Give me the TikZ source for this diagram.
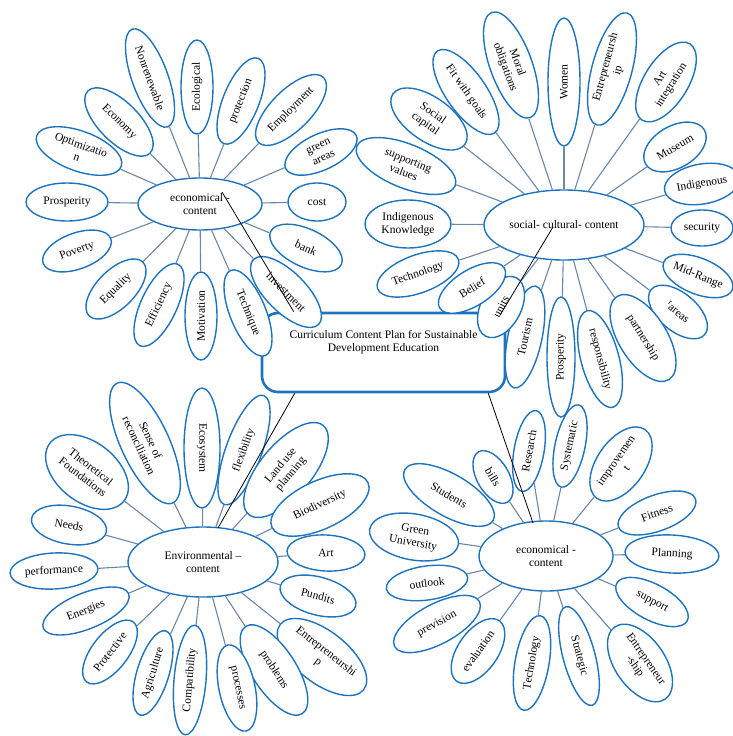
\documentclass[tikz,border=0pt]{standalone}
\usepackage{fontspec}
\setmainfont{Liberation Serif}
\usetikzlibrary{shapes.geometric,calc,positioning}
\definecolor{petalblue}{RGB}{30,115,190}
\definecolor{spokegray}{RGB}{105,135,170}
\begin{document}
\begin{tikzpicture}[x=1pt,y=-1pt,
	font=\fontsize{11.5}{13}\selectfont,
	hub/.style={ellipse,draw=petalblue,line width=1.4pt,fill=white,inner sep=0pt,align=center},
	petal/.style={ellipse,draw=petalblue,line width=1.4pt,fill=white,inner sep=-3pt,align=center},
	spoke/.style={draw=spokegray,line width=1.1pt},
	link/.style={draw=black,line width=0.8pt}]
	\useasboundingbox (0,0) rectangle (733,736);
	% central plan
	\node[draw=petalblue,line width=2.6pt,rounded corners=16pt,minimum width=243pt,minimum height=79pt,inner sep=0pt] (plan) at (383.5,352.5) {};
	\node[below=18pt of plan.north,align=center,inner sep=0pt] (plantitle) {Curriculum Content Plan for Sustainable\\Development Education};
	% hubs
	\node[hub,minimum width=124pt,minimum height=52pt] (econ) at (200,204) {economical -\\content};
	\node[hub,minimum width=160pt,minimum height=70pt] (social) at (564,225) {social- cultural- content};
	\node[hub,minimum width=150pt,minimum height=70pt] (environ) at (203,562) {Environmental --\\content};
	\node[hub,minimum width=134pt,minimum height=70pt] (econb) at (546,556) {economical -\\content};
	% petals: x/y/rotation/half length/half width/text
	\foreach \px/\py/\r/\a/\b/\t [count=\i] in {
		67/202/0/41/19/Prosperity,
		79/151/-20/45/20/{Optimizatio\\n},
		119/122/-45/44/20/Economy,
		150/78/-70/52/18/Nonrenewable,
		197/87/90/47/16/Ecological,
		241/101/68/46/18/protection,
		291/110/45/46/20/Employment,
		321/152/25/39/18/{green\\areas},
		317/202/0/29/19/cost,
		306/248/-25/39/19/bank,
		286/292/-45/46/20/investment,
		248/313/-68/46/18/Technique,
		201/316/90/44/16/Motivation,
		159/305/65/45/18/Efficiency,
		116/289/45/38/19/Equality,
		77/251/20/36/18/Poverty}{
		\node[petal,rotate=\r,minimum width=2*\a,minimum height=2*\b] (econ\i) at (\px,\py) {\t};
		\draw[spoke] (econ) -- (econ\i);
	}
	\foreach \px/\py/\r/\a/\b/\t [count=\i] in {
		408/224/0/43/24/{Indigenous\\Knowledge},
		406/166/-22/53/22/{supporting\\values},
		429/119/-35/44/22/{Social\\capital},
		466/92/-55/50/20/Fit with goals,
		511/65/-70/56/21/{Moral\\obligations},
		564/82/90/64/16/Women,
		612/69/75/58/20/{Entrepreneursh\\ip},
		666/82/58/45/22/{Art\\integration},
		675/147/30/34/21/Museum,
		702/184/10/38/20/Indigenous,
		702/228/0/31/18/security,
		698/276/-22/37/18/Mid-Range,
		678/312/-40/35/19/{\textsuperscript{r}areas},
		643/338/-58/49/24/partnership,
		600/359/-75/50/19/responsibility,
		561/357/90/60/14/Prosperity,
		525/337/78/52/17/Tourism,
		501/307/62/33/20/units,
		472/288/32/38/18/Belief,
		418/274/20/43/19/Technology}{
		\node[petal,rotate=\r,minimum width=2*\a,minimum height=2*\b] (social\i) at (\px,\py) {\t};
		\draw[spoke] (social) -- (social\i);
	}
	\foreach \px/\py/\r/\a/\b/\t [count=\i] in {
		69/525/-10/38/19/Needs,
		87/472/-38/47/30/{Theoretical\\Foundations},
		145/443/-65/66/24/{Sense of\\reconciliation},
		202/448/-90/60/18/Ecosystem,
		244/450/70/58/18/flexibility,
		286/470/50/58/26/{Land use\\planning},
		320/505/25/53/24/Biodiversity,
		326/553/-3/39/18/Art,
		318/596/-15/39/19/Pundits,
		322/657/-38/53/26/{Entrepreneurshi\\p},
		274/670/-57/52/22/problems,
		237/688/-78/44/18/processes,
		190/680/85/55/16/Compatibility,
		153/673/73/44/16/Agriculture,
		110/652/52/38/18/Protective,
		86/611/22/46/18/Energies,
		54/571/3/44/18/performance}{
		\node[petal,rotate=\r,minimum width=2*\a,minimum height=2*\b] (environ\i) at (\px,\py) {\t};
		\draw[spoke] (environ) -- (environ\i);
	}
	\foreach \px/\py/\r/\a/\b/\t [count=\i] in {
		414/537/-10/45/23/{Green\\University},
		449/495/-30/51/21/Students,
		493/477/-60/29/16/bills,
		529/451/80/41/15/Research,
		570/446/78/42/15/Systematic,
		621/464/55/42/24/{improvemen\\t},
		657/513/20/41/18/Fitness,
		672/554/-3/47/19/Planning,
		652/602/-28/40/18/support,
		640/663/-55/44/25/{Entrepreneur\\-ship},
		579/656/-75/51/16/Strategic,
		532/663/80/48/17/Technology,
		478/651/55/37/20/evaluation,
		437/624/28/48/20/prevision,
		427/583/8/41/17/outlook}{
		\node[petal,rotate=\r,minimum width=2*\a,minimum height=2*\b] (econb\i) at (\px,\py) {\t};
		\draw[spoke] (econb) -- (econb\i);
	}
	% links from the plan
	\draw[link] ($(plan.north west)+(33,0)$) -- ($(econ)+(22,-12)$);
	\draw[link] ($(plan.north east)+(-6,3)$) -- ($(social)+(-11,2)$);
	\draw[link] ($(plan.south west)+(34,0)$) -- ($(environ)+(15,-34)$);
	\draw[link] ($(plan.south east)+(-18,0)$) -- ($(econb)+(-13,-33)$);
\end{tikzpicture}
\end{document}
